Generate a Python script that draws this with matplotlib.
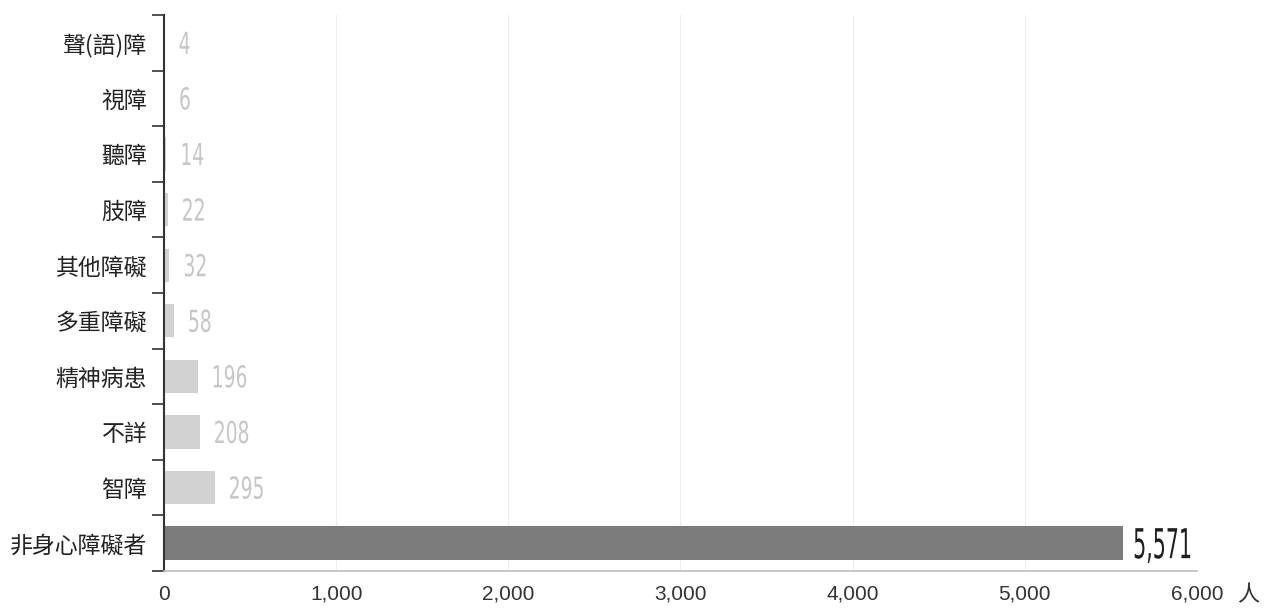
import matplotlib
matplotlib.use("Agg")
import matplotlib.pyplot as plt
import numpy as np
from matplotlib.font_manager import FontProperties
from matplotlib.patches import PathPatch
from matplotlib.textpath import TextPath
from matplotlib.ticker import FixedLocator, FuncFormatter
from matplotlib.transforms import Affine2D, IdentityTransform

plt.rcParams["font.family"] = ["Noto Sans CJK TC", "DejaVu Sans"]

# data, top to bottom
categories = ["聲(語)障", "視障", "聽障", "肢障", "其他障礙", "多重障礙",
              "精神病患", "不詳", "智障", "非身心障礙者"]
values = [4, 6, 14, 22, 32, 58, 196, 208, 295, 5571]
x_ticks = [0, 1000, 2000, 3000, 4000, 5000, 6000]

light = "#d2d2d2"
dark = "#7b7b7b"

fig = plt.figure(figsize=(12.68, 6.08), dpi=100)
ax = fig.add_axes([0.1293, 0.0609, 0.8147, 0.9144])

n = len(categories)
y = np.arange(n)[::-1]  # first category at top
colors = [light] * (n - 1) + [dark]
ax.barh(y, values, height=0.6, color=colors, zorder=2)

ax.set_xlim(0, 6000)
ax.set_ylim(-0.5, n - 0.5)


def condensed_label(x, yv, s, digit_px, color, gap_px=12, squeeze=0.5):
    """Draw a narrow, tall number label as a path (no condensed font here)."""
    prop = FontProperties(family="DejaVu Sans")
    tp = TextPath((0, 0), s, size=100, prop=prop)
    scale = digit_px / 72.9  # DejaVu digit height is ~0.729 em
    px, py = ax.transData.transform((x, yv))
    tr = (Affine2D().scale(scale * squeeze, scale)
          .translate(px + gap_px, py - digit_px / 2))
    patch = PathPatch(tp, transform=tr + IdentityTransform(),
                      facecolor=color, edgecolor="none", zorder=3)
    fig.add_artist(patch)


for yi, v, c in zip(y, values, colors):
    if c == dark:
        condensed_label(v, yi, f"{v:,}", 30, "#1e1e1e", gap_px=10, squeeze=0.5)
    else:
        condensed_label(v, yi, f"{v:,}", 22, "#c6c6c6", gap_px=14, squeeze=0.62)

# axes styling
ax.set_yticks(y)
ax.set_yticklabels(categories, fontsize=16.5, color="#222222",
                   fontweight="medium")
ax.tick_params(axis="y", which="major", length=0, pad=12)
ax.yaxis.set_minor_locator(FixedLocator(np.arange(-0.5, n, 1.0)))
ax.tick_params(axis="y", which="minor", length=9, width=1.2, color="#333333")

ax.xaxis.set_major_locator(FixedLocator(x_ticks))
ax.xaxis.set_major_formatter(FuncFormatter(lambda v, p: f"{int(v):,}"))
ax.tick_params(axis="x", length=0, pad=10, labelsize=15, labelcolor="#333333")
for lab in ax.get_xticklabels():
    lab.set_family(["Liberation Sans", "DejaVu Sans"])
ax.grid(axis="x", color="#eeeeee", linewidth=0.8, zorder=0)

for s in ["top", "right"]:
    ax.spines[s].set_visible(False)
ax.spines["left"].set_color("#333333")
ax.spines["left"].set_linewidth(1.5)
ax.spines["bottom"].set_color("#bcbcbc")
ax.spines["bottom"].set_linewidth(1.2)

fig.text(1237 / 1268, 1 - 595 / 608, "人", fontsize=16, color="#333333",
         ha="left", va="center")

fig.savefig("out.png", dpi=100)
